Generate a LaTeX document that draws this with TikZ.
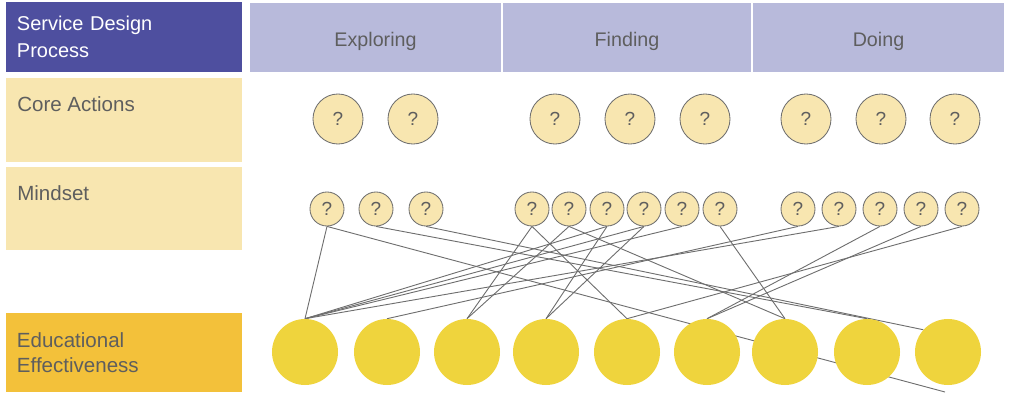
\documentclass[tikz,border=0pt]{standalone}
\usepackage{fontspec}
\setmainfont{Liberation Sans}
\usetikzlibrary{backgrounds}

\definecolor{sdpurple}{HTML}{4E4F9F}
\definecolor{sdlilac}{HTML}{B8BADB}
\definecolor{sdcream}{HTML}{F8E6B0}
\definecolor{sdorange}{HTML}{F3C13A}
\definecolor{sdyellow}{HTML}{EFD43D}
\definecolor{sdtext}{HTML}{5E5E5E}
\definecolor{sdline}{HTML}{6E6E6E}

\tikzset{
  headbox/.style={fill=sdlilac, minimum height=1.725cm, inner sep=0pt, text height=0.5cm, text depth=0.04cm,
                  text=sdtext, font=\fontsize{14}{16}\selectfont},
  rowbox/.style={fill=sdcream, minimum width=5.9cm, inner sep=0pt},
  rowlabel/.style={anchor=west, inner sep=0pt, text=sdtext, font=\fontsize{14.6}{18}\selectfont},
  ask/.style={circle, draw=sdline, line width=0.6pt, fill=sdcream, inner sep=0pt, text=sdtext, font=\fontsize{13.5}{15}\selectfont},
  bigdot/.style={circle, fill=sdyellow, minimum size=1.65cm, inner sep=0pt},
  link/.style={draw=sdline, line width=0.65pt}
}

\begin{document}
\begin{tikzpicture}[x=0.025cm, y=-0.025cm]
    \useasboundingbox (0,0) rectangle (1009,394);

    % left column
    \node[fill=sdpurple, text=white, minimum width=5.9cm, minimum height=1.725cm, text width=5.35cm,
          inner xsep=0.275cm, inner ysep=0pt, align=left, font=\fontsize{14.2}{19.5}\selectfont] (sdp) at (124,37) {Service Design\\Process};
    \node[rowbox, minimum height=2.1cm] (corebox) at (124,120) {};
    \node[rowlabel] (corelabel) at (17,104) {Core Actions};
    \node[rowbox, minimum height=2.075cm] (mindbox) at (124,208.5) {};
    \node[rowlabel] (mindlabel) at (17,193) {Mindset};
    \node[rowbox, fill=sdorange, minimum height=1.975cm, text width=5.35cm, inner xsep=0.275cm, align=left,
          text=sdtext, font=\fontsize{14.6}{17.5}\selectfont] (effbox) at (124,352.5) {Educational\\Effectiveness};

    % phases
    \node[headbox, minimum width=6.275cm] (explore) at (375.5,37.5) {Exploring};
    \node[headbox, minimum width=6.2cm] (find) at (627,37.5) {Finding};
    \node[headbox, minimum width=6.275cm] (doing) at (878.5,37.5) {Doing};

    % core actions and mindsets
    \foreach \x [count=\i] in {338,413,555,630,705,806,881,955}
        \node[ask, minimum size=1.25cm] (c\i) at (\x,119) {?};
    \foreach \x [count=\i] in {327,376,426,532,569,607,644,682,720,798,839,880,921,962}
        \node[ask, minimum size=0.85cm] (m\i) at (\x,209) {?};

    % effectiveness
    \foreach \x [count=\i] in {305,387,467,546,627,707,785,867,948}
        \node[bigdot] (e\i) at (\x,352) {};
    \coordinate (tail) at (945,392);

    \begin{scope}[on background layer]
        \foreach \a/\b in {m1/e1, m2/e8, m4/e3, m4/e5, m5/e3, m5/e7, m6/e1, m6/e4, m7/e1, m7/e4,
                           m8/e1, m9/e7, m10/e2, m11/e1, m12/e6, m13/e6, m14/e5}
            \draw[link] (\a.south) -- (\b.north);
        \draw[link] (m3.south) -- (e9.138);
        \draw[link] (m1.south) -- (tail);
    \end{scope}
\end{tikzpicture}
\end{document}
